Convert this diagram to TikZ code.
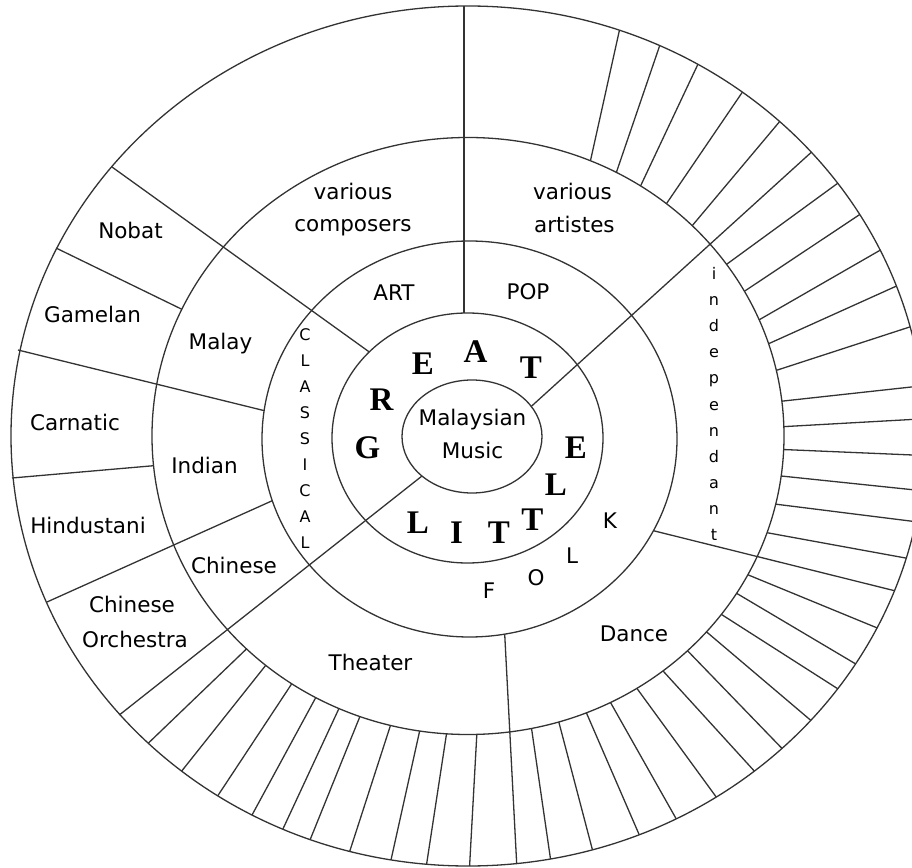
\documentclass[tikz,border=0pt]{standalone}
\usepackage{fontspec}
\setmainfont{DejaVu Sans}
\newfontfamily\serifbold{Liberation Serif}
\tikzset{
  ring/.style={line width=1.3pt, black!80},
  spoke/.style={line width=1.3pt, black!80},
  lbl/.style={anchor=base, inner sep=0pt, font=\fontsize{21.5}{26}\selectfont},
  letter/.style={anchor=base, inner sep=0pt, font=\fontsize{16}{19}\selectfont},
  bigletter/.style={anchor=base, inner sep=0pt, font=\serifbold\bfseries\fontsize{33}{36}\selectfont},
}
\begin{document}
\begin{tikzpicture}[x=1pt,y=1pt]
    % Frame
    \useasboundingbox (-468,-430) rectangle (444,437);
    \clip (-468,-430) rectangle (444,437);
    % Rings
    \draw [ring] (4,0.5) ellipse [x radius=70, y radius=56.5];
    \draw [ring] (-0.5,-1) ellipse [x radius=135.5, y radius=125];
    \draw [ring] (1.5,-2) ellipse [x radius=207.5, y radius=198];
    \draw [ring] (0,1) ellipse [x radius=316, y radius=298.5];
    \draw [ring] (0,1) ellipse [x radius=457, y radius=430];
    % Coordinate
    \coordinate (V1) at (-4,431);
    \coordinate (V2) at (-4,124);
    \coordinate (M1) at (63.3,30.6);
    \coordinate (M2) at (343.4,284.8);
    \coordinate (S1) at (-98.8,85.1);
    \coordinate (S2) at (-356,270);
    \coordinate (L1) at (-203.9,26.4);
    \coordinate (L2) at (-450,87);
    \coordinate (N1) at (-286.1,127.7);
    \coordinate (N2) at (-412,189);
    \coordinate (C1) at (-314.4,-28.7);
    \coordinate (C2) at (-456,-41);
    \coordinate (H1) at (-195.7,-63.7);
    \coordinate (H2) at (-421,-165);
    \coordinate (T1) at (-46,-39);
    \coordinate (T2) at (-348.7,-278);
    \coordinate (D1) at (185.4,-93.7);
    \coordinate (D2) at (426.5,-153.7);
    \coordinate (B1) at (36.7,-197.1);
    \coordinate (B2) at (48.7,-427);
    % Linee
    \draw [spoke] (V1) -- (V2); % art / pop
    \draw [spoke] (M1) -- (M2); % pop / independant
    \draw [spoke] (S1) -- (S2); % classical / art
    \draw [spoke] (L1) -- (L2); % malay / indian
    \draw [spoke] (N1) -- (N2); % nobat / gamelan
    \draw [spoke] (C1) -- (C2); % carnatic / hindustani
    \draw [spoke] (H1) -- (H2); % indian / chinese
    \draw [spoke] (T1) -- (T2); % chinese / theater
    \draw [spoke] (D1) -- (D2); % independant / dance
    \draw [spoke] (B1) -- (B2); % theater / dance
    % Hatching
    \foreach \a/\b in {67.2/70.65, 62/65.2, 56.9/59.8, 51.1/53.1, 44.8/47,
        35.1/36, 29/31, 22.9/25.6, 18/20.4, 12.7/14.7, 6.7/6.7, 1.8/2.3,
        -2.6/-2.6, -7.7/-7.3, -13.2/-11.5, -18.9/-16.5, -27.7/-26.5,
        -31.8/-32, -36.7/-36, -41/-41.4, -46/-46.6, -51.9/-51.2,
        -57.7/-57.1, -63.2/-62.9, -68/-68, -73.3/-74.2, -78.4/-79.6,
        -88.4/-89.8, -93.9/-95.2, -98.8/-99.7, -104.2/-105, -110/-110.2,
        -114.1/-113.9, -118.8/-118.2, -123.9/-123.2, -129.8/-128.8,
        -134.5/-134.4}
        \draw [spoke, shift={(0,1)}] (\a:316 and 298.5) -- (\b:457 and 430);
    % Writing space
    \node [lbl] (malaysian) at (4.5,12) {Malaysian};
    \node [lbl] (music) at (4.5,-21) {Music};
    \node [lbl] (various1) at (-115,237) {various};
    \node [lbl] (composers) at (-115,205) {composers};
    \node [lbl, anchor=base west] (various2) at (65,237) {various};
    \node [lbl, anchor=base west] (artistes) at (66,204) {artistes};
    \node [lbl] (art) at (-74,136) {ART};
    \node [lbl] (pop) at (60,137) {POP};
    \node [lbl] (nobat) at (-337.5,198) {Nobat};
    \node [lbl] (gamelan) at (-375.5,114) {Gamelan};
    \node [lbl] (malay) at (-247.5,87) {Malay};
    \node [lbl] (carnatic) at (-393,6) {Carnatic};
    \node [lbl] (indian) at (-263.5,-36) {Indian};
    \node [lbl] (hindustani) at (-380,-96) {Hindustani};
    \node [lbl] (chinese) at (-234,-136) {Chinese};
    \node [lbl] (orch1) at (-336,-175) {Chinese};
    \node [lbl] (orch2) at (-333,-210) {Orchestra};
    \node [lbl] (theater) at (-97.5,-233) {Theater};
    \node [lbl] (dance) at (166,-204) {Dance};
    \foreach \c [count=\i] in {C,L,A,S,S,I,C,A,L}
        \node [letter] (cl\i) at (-163,122.3-26*\i) {\c};
    \foreach \c [count=\i] in {i,n,d,e,p,e,n,d,a,n,t}
        \node [letter] (ind\i) at (246,183-26*\i) {\c};
    \foreach \c/\x/\y [count=\i] in {F/21/-161, O/68/-148, L/104/-126, K/142/-91}
        \node [lbl] (folk\i) at (\x,\y) {\c};
    \foreach \c/\x/\y [count=\i] in {G/-100.5/-21, R/-86.5/27, E/-45/62,
        A/7.5/74, T/62.8/58}
        \node [bigletter] (great\i) at (\x,\y) {\c};
    \foreach \c/\x/\y [count=\i] in {L/-50/-96, I/-11.5/-106, T/31/-106,
        T/64.5/-93, L/88/-58, E/108/-21}
        \node [bigletter] (little\i) at (\x,\y) {\c};
\end{tikzpicture}
\end{document}
